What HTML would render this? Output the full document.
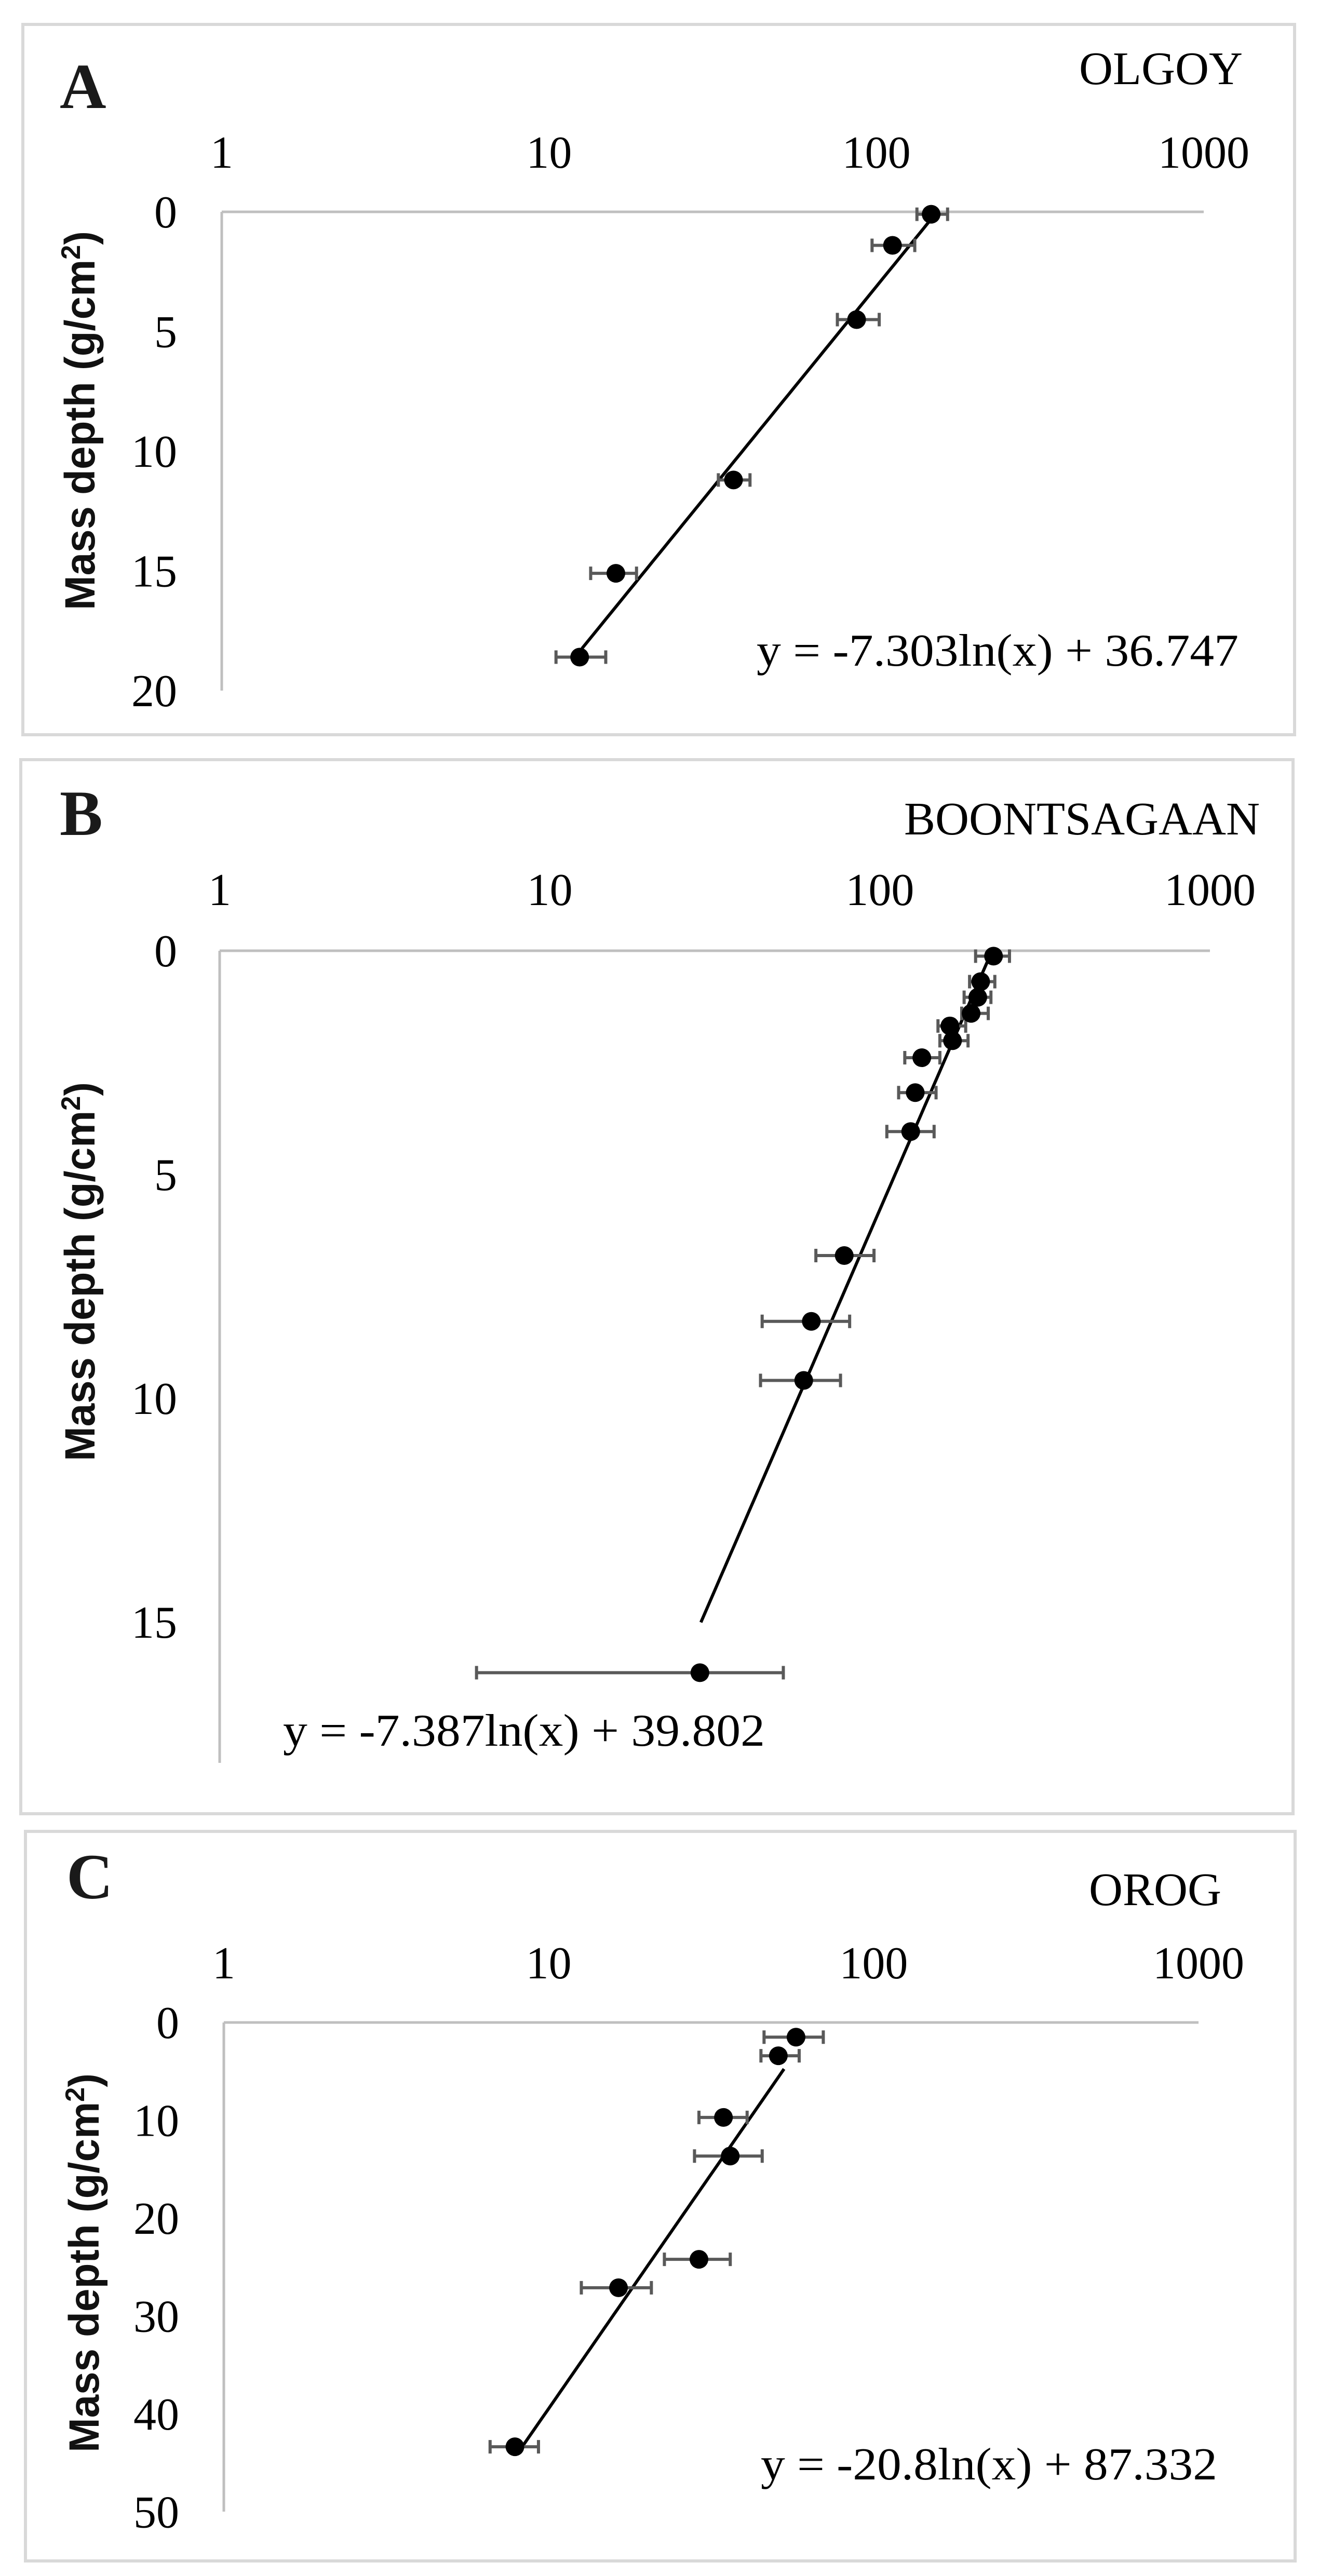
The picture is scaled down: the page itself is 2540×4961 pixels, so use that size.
<!DOCTYPE html>
<html><head><meta charset="utf-8"><style>
html,body{margin:0;padding:0;background:#fff;}
svg{display:block;}
</style></head><body>
<svg id="fig" width="2540" height="4961" viewBox="0 0 2540 4961" xmlns="http://www.w3.org/2000/svg">
<rect x="0" y="0" width="2540" height="4961" fill="#fff"/>
</svg>
<script>
// Panel A - OLGOY
const aX = [147, 112, 87, 36.6, 16, 12.4];
const aDepth = [0.1, 1.4, 4.5, 11.2, 15.1, 18.6];
const aLo = [133, 97, 76, 32.9, 13.4, 10.5];
const aHi = [165, 131, 102, 41.1, 18.5, 14.9];
const aTrend = [-7.303, 36.747];
const aTrendRange = [12.6, 152];
const aYTicks = [0, 5, 10, 15, 20];
// Panel B - BOONTSAGAAN
const bX = [221, 202, 198, 189, 163, 166, 134, 128, 124, 78, 62, 58.8, 28.5];
const bDepth = [0.12, 0.69, 1.04, 1.40, 1.68, 2.01, 2.39, 3.17, 4.04, 6.81, 8.28, 9.60, 16.13];
const bLo = [195, 187, 180, 177, 150, 152, 119, 114, 105, 64, 44, 43.5, 6.0];
const bHi = [247, 223, 217, 213, 182, 185, 152, 148, 146, 96, 81, 76, 51];
const bTrend = [-7.387, 39.802];
const bTrendRange = [28.7, 219];
const bYTicks = [0, 5, 10, 15];
// Panel C - OROG
const cX = [57.7, 50.9, 34.5, 36.2, 29.0, 16.4, 7.87];
const cDepth = [1.5, 3.4, 9.7, 13.65, 24.2, 27.1, 43.35];
const cLo = [46, 45, 29, 28.1, 22.7, 12.6, 6.6];
const cHi = [70, 59, 40.8, 45.4, 36.2, 20.7, 9.3];
const cTrend = [-20.8, 87.332];
const cTrendRange = [8.2, 53];
const cYTicks = [0, 10, 20, 30, 40, 50];
const xTickLabels = ["1", "10", "100", "1000"];

const NS = "http://www.w3.org/2000/svg";
const svg = document.getElementById("fig");
function mk(tag, attrs, parent, text) {
  const e = document.createElementNS(NS, tag);
  for (const k in attrs) e.setAttribute(k, attrs[k]);
  if (text !== undefined) e.textContent = text;
  (parent || svg).appendChild(e);
  return e;
}
const SERIF = '"Liberation Serif", serif';
const SANS = '"Liberation Sans", sans-serif';

function drawPanel(p) {
  const g = mk("g", {});
  
  
  const sx = v => p.x1 + (Math.log10(v)) * (p.x1000 - p.x1) / 3;
  const sy = d => p.y0 + d * p.unit;
  const border = mk("rect", {x: p.box[0], y: p.box[1], width: p.box[2] - p.box[0], height: p.box[3] - p.box[1], fill: "#fff", stroke: "#d9d9d9", "stroke-width": 6}, g);
  
  
  const xa = mk("line", {x1: p.x1, y1: p.y0, x2: p.x1000, y2: p.y0, stroke: "#bfbfbf", "stroke-width": 5}, g);
  
  
  const ya = mk("line", {x1: p.x1, y1: p.y0, x2: p.x1, y2: p.yBottom, stroke: "#bfbfbf", "stroke-width": 5}, g);
  
  
  xTickLabels.forEach(t => {
    const e = mk("text", {x: sx(parseFloat(t)), y: p.xLabY, "text-anchor": "middle", "font-family": SERIF, "font-size": 88, fill: "#000"}, g, t);
    
    
  });
  p.yTicks.forEach(t => {
    const e = mk("text", {x: p.yLabX, y: sy(t) + 30, "text-anchor": "end", "font-family": SERIF, "font-size": 88, fill: "#000"}, g, String(t));
    
    
  });
  const yt = mk("text", {x: 0, y: 0, transform: `translate(${p.titleX},${p.titleY}) rotate(-90)`, "text-anchor": "middle", "font-family": SANS, "font-size": 82, "font-weight": "bold", "textLength": p.titleLen, "lengthAdjust": "spacingAndGlyphs", fill: "#111"}, g);
  
  
  mk("tspan", {}, yt, "Mass depth (g/cm");
  mk("tspan", {dy: -28, "font-size": 52}, yt, "2");
  mk("tspan", {dy: 28}, yt, ")");
  const L = mk("text", {x: p.letter[1], y: p.letter[2], "font-family": SERIF, "font-weight": "bold", "font-size": 124, fill: "#1a1a1a"}, g, p.letter[0]);
  
  
  const S = mk("text", {x: p.site[1], y: p.site[2], "text-anchor": "end", "font-family": SERIF, "font-size": 90, fill: "#000"}, g, p.site[0]);
  
  
  const N = 60; let d = "";
  for (let i = 0; i <= N; i++) {
    const lx = Math.log(p.tr[0]) + (Math.log(p.tr[1]) - Math.log(p.tr[0])) * i / N;
    const xv = Math.exp(lx);
    const dv = p.trend[0] * lx + p.trend[1];
    d += (i ? "L" : "M") + sx(xv).toFixed(1) + "," + sy(dv).toFixed(1);
  }
  const tl = mk("path", {d: d, fill: "none", stroke: "#000", "stroke-width": 6}, g);
  
  
  p.xs.forEach((v, i) => {
    const y = sy(p.depth[i]);
    const eb = mk("path", {d: `M${sx(p.lo[i])},${y}H${sx(p.hi[i])}M${sx(p.lo[i])},${y - 13}V${y + 13}M${sx(p.hi[i])},${y - 13}V${y + 13}`, stroke: "#595959", "stroke-width": 6, fill: "none"}, g);
    
    
  });
  p.xs.forEach((v, i) => {
    const c = mk("circle", {cx: sx(v), cy: sy(p.depth[i]), r: 18, fill: "#000"}, g);
    
    
  });
  const eq = mk("text", {x: p.eq[0], y: p.eq[2], textLength: p.eq[1] - p.eq[0], lengthAdjust: "spacingAndGlyphs", "font-family": SERIF, "font-size": 88, fill: "#000"}, g, p.eq[3]);
  
  
}

drawPanel({name: "panel-a-olgoy", box: [44, 47, 2493, 1415], x1: 427, x1000: 2318, y0: 408, unit: 46.1, yBottom: 1330,
  xLabY: 323, yLabX: 341, yTicks: aYTicks, titleX: 182, titleY: 810, titleLen: 730, letter: ["A", 115, 208], site: ["OLGOY", 2393, 162],
  xs: aX, depth: aDepth, lo: aLo, hi: aHi, trend: aTrend, tr: aTrendRange, eq: [1457, 2385, 1282, "y = -7.303ln(x) + 36.747"]});
drawPanel({name: "panel-b-boontsagaan", box: [40, 1463, 2490, 3493], x1: 423, x1000: 2330, y0: 1831, unit: 86.2, yBottom: 3395,
  xLabY: 1743, yLabX: 341, yTicks: bYTicks, titleX: 182, titleY: 2449, titleLen: 730, letter: ["B", 115, 1608], site: ["BOONTSAGAAN", 2426, 1607],
  xs: bX, depth: bDepth, lo: bLo, hi: bHi, trend: bTrend, tr: bTrendRange, eq: [545, 1473, 3362, "y = -7.387ln(x) + 39.802"]});
drawPanel({name: "panel-c-orog", box: [49, 3527, 2494, 4932], x1: 431, x1000: 2308, y0: 3895, unit: 18.85, yBottom: 4837,
  xLabY: 3810, yLabX: 345, yTicks: cYTicks, titleX: 190, titleY: 4358, titleLen: 730, letter: ["C", 128, 3656], site: ["OROG", 2352, 3669],
  xs: cX, depth: cDepth, lo: cLo, hi: cHi, trend: cTrend, tr: cTrendRange, eq: [1465, 2344, 4775, "y = -20.8ln(x) + 87.332"]});
</script>
</body></html>
